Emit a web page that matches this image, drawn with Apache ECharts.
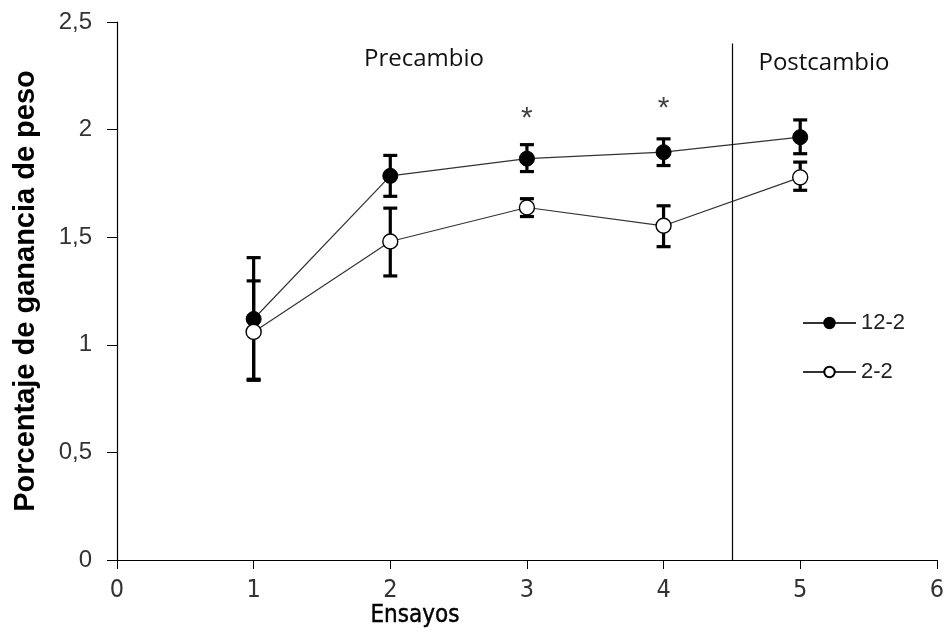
<!DOCTYPE html>
<html><head><meta charset="utf-8">
<script src="https://cdn.jsdelivr.net/npm/echarts@6/dist/echarts.min.js"></script>
<style>html,body{margin:0;padding:0;background:#fff}#c{width:947px;height:634px}</style>
</head><body><div id="c"></div>
<script>
const trials = [1, 2, 3, 4, 5];
const mean122 = [1.12, 1.785, 1.865, 1.895, 1.965];
const low122  = [0.835, 1.69, 1.805, 1.833, 1.888];
const high122 = [1.405, 1.88, 1.93, 1.957, 2.045];
const mean22  = [1.06, 1.48, 1.638, 1.553, 1.778];
const low22   = [0.84, 1.32, 1.596, 1.456, 1.718];
const high22  = [1.297, 1.635, 1.679, 1.646, 1.849];
const stars = [[3, 2.05], [4, 2.095]];
const changeX = 4.5, changeTop = 2.4;

const chart = echarts.init(document.getElementById('c'), null, {renderer: 'canvas'});
function errSeries(low, high, name) {
  return {
    type: 'custom', name: name + '_err', z: 2, silent: true,
    data: trials.map((t, i) => [t, low[i], high[i]]),
    renderItem: function (params, api) {
      const x = api.value(0);
      const p1 = api.coord([x, api.value(1)]);
      const p2 = api.coord([x, api.value(2)]);
      const w = 7;
      const st = {stroke: '#000', lineWidth: 3.2};
      return {type: 'group', children: [
        {type: 'line', shape: {x1: p1[0], y1: p1[1], x2: p2[0], y2: p2[1]}, style: st},
        {type: 'line', shape: {x1: p1[0]-w, y1: p1[1], x2: p1[0]+w, y2: p1[1]}, style: st},
        {type: 'line', shape: {x1: p2[0]-w, y1: p2[1], x2: p2[0]+w, y2: p2[1]}, style: st}
      ]};
    }
  };
}
const option = {
  animation: false,
  backgroundColor: '#fff',
  grid: {left: 117, right: 7, top: 22, bottom: 74},
  xAxis: {
    type: 'value', min: 0, max: 6, interval: 1,
    axisLine: {onZero: false, lineStyle: {color: '#000', width: 1.2}},
    axisTick: {show: true, length: 9, lineStyle: {color: '#000'}},
    axisLabel: {color: '#333', fontSize: 25, fontFamily: 'Liberation Sans Narrow, DejaVu Sans Condensed, sans-serif', margin: 18},
    splitLine: {show: false}
  },
  yAxis: {
    type: 'value', min: 0, max: 2.5, interval: 0.5,
    axisLine: {show: true, lineStyle: {color: '#000', width: 1.2}},
    axisTick: {show: true, length: 10, lineStyle: {color: '#000'}},
    axisLabel: {color: '#333', fontSize: 24, fontFamily: 'Liberation Sans, Arial, sans-serif', margin: 25,
      formatter: v => String(v).replace('.', ',')},
    splitLine: {show: false},
    name: 'Porcentaje de ganancia de peso', nameLocation: 'middle', nameGap: 77,
    nameTextStyle: {color: '#000', fontSize: 29, fontWeight: 'bold', fontFamily: 'Liberation Sans, Arial, sans-serif'}
  },
  legend: {
    orient: 'vertical', left: 797, top: 307, itemGap: 27, itemWidth: 53, itemHeight: 13,
    data: ['12-2', '2-2'],
    textStyle: {color: '#222', fontSize: 22, fontFamily: 'Liberation Sans, Arial, sans-serif'}
  },
  graphic: [
    {type: 'text', x: 424, y: 59, style: {text: 'Precambio', align: 'center', verticalAlign: 'middle', fontSize: 24, fontFamily: 'Open Sans, Lato, sans-serif', fill: '#111'}},
    {type: 'text', x: 824, y: 63, style: {text: 'Postcambio', align: 'center', verticalAlign: 'middle', fontSize: 24, fontFamily: 'Open Sans, Lato, sans-serif', fill: '#111'}},
    {type: 'text', x: 415, y: 616, style: {text: 'Ensayos', align: 'center', verticalAlign: 'middle', fontSize: 24, fontFamily: 'Liberation Sans Narrow, DejaVu Sans Condensed, sans-serif', fill: '#000', stroke: '#000', lineWidth: 0.4}}
  ],
  series: [
    errSeries(low122, high122, '12-2'),
    errSeries(low22, high22, '2-2'),
    {
      name: '12-2', type: 'line', z: 3,
      data: trials.map((t, i) => [t, mean122[i]]),
      symbol: 'circle', symbolSize: 15,
      lineStyle: {color: '#333', width: 1.2},
      itemStyle: {color: '#000', borderColor: '#000', borderWidth: 1},
      markLine: {
        silent: true, symbol: 'none', label: {show: false},
        lineStyle: {color: '#000', width: 1.2, type: 'solid'},
        data: [[{coord: [changeX, 0]}, {coord: [changeX, changeTop]}]]
      }
    },
    {
      name: '2-2', type: 'line', z: 3,
      data: trials.map((t, i) => [t, mean22[i]]),
      symbol: 'circle', symbolSize: 15,
      lineStyle: {color: '#333', width: 1.2},
      itemStyle: {color: '#fff', borderColor: '#000', borderWidth: 1.4}
    },
    {
      name: 'stars', type: 'scatter', z: 4, symbolSize: 1, itemStyle: {color: 'rgba(0,0,0,0)'},
      data: stars,
      label: {show: true, position: 'inside', formatter: '*', fontSize: 30, color: '#111', fontFamily: 'Liberation Sans, Arial, sans-serif'}
    }
  ]
};
chart.setOption(option);
</script></body></html>
